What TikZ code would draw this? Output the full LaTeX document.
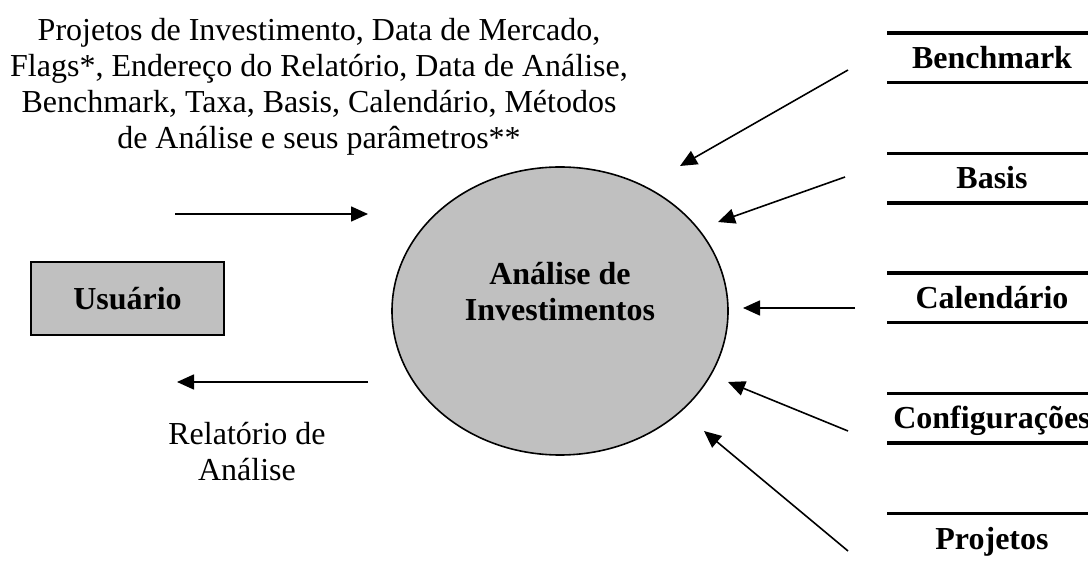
\documentclass[tikz,border=0pt]{standalone}
\usepackage{fontspec}
\setmainfont{Liberation Serif}
\usetikzlibrary{arrows.meta,shapes.geometric}
\definecolor{cinza}{RGB}{192,192,192}

\begin{document}
\begin{tikzpicture}[x=1pt,y=-1pt,
  flow/.style={draw,line width=1.6pt,-{Triangle[length=17pt,width=15pt]}},
  txt/.style={font=\fontsize{32}{36}\selectfont,align=center,inner sep=0pt},
  store/.style={font=\bfseries\fontsize{32}{36}\selectfont,inner sep=0pt,anchor=base},
  storeline/.style={draw,line width=3.5pt}]
\useasboundingbox (0,0) rectangle (1088,561);

\node[draw,line width=1.2pt,fill=cinza,minimum width=193pt,minimum height=73pt] (u) at (127.5,298.5) {};
\node[txt,font=\bfseries\fontsize{32}{36}\selectfont] (ut) at (127.5,298.5) {Usuário};
\node[draw,ellipse,line width=1.6pt,fill=cinza,minimum width=336pt,minimum height=288pt] (p) at (560,311) {};
\node[txt,font=\bfseries\fontsize{32}{36}\selectfont] (pt) at (560,292) {Análise de\\Investimentos};

\node[txt] (dados) at (319,87) {Projetos de Investimento, Data de Mercado,\\Flags*, Endereço do Relatório, Data de Análise,\\Benchmark, Taxa, Basis, Calendário, Métodos\\de Análise e seus parâmetros**};
\node[txt] (rel) at (247,452) {Relatório de\\Análise};

\foreach \nome/\yy [count=\i] in {Benchmark/57.5,Basis/178,Calendário/297.5,Configurações/418,Projetos/538}
{
\node[store] (s\i) at (992,\yy+11) {\nome};
\draw[storeline] (887,\yy-24.5) -- (1100,\yy-24.5);
\draw[storeline] (887,\yy+25) -- (1100,\yy+25);
}

\coordinate (e1) at (175,214);
\coordinate (e2) at (368,214);
\coordinate (r1) at (368,382);
\coordinate (r2) at (177,382);
\coordinate (a1) at (848,70);
\coordinate (a2) at (680,166);
\coordinate (b1) at (845,177);
\coordinate (b2) at (718,222);
\coordinate (c1) at (855,308);
\coordinate (c2) at (743,308);
\coordinate (d1) at (848,431);
\coordinate (d2) at (728,382);
\coordinate (f1) at (848,551);
\coordinate (f2) at (704,431);

\path[flow] (e1) -- (e2);
\path[flow] (r1) -- (r2);
\path[flow] (a1) -- (a2);
\path[flow] (b1) -- (b2);
\path[flow] (c1) -- (c2);
\path[flow] (d1) -- (d2);
\path[flow] (f1) -- (f2);
\end{tikzpicture}
\end{document}
